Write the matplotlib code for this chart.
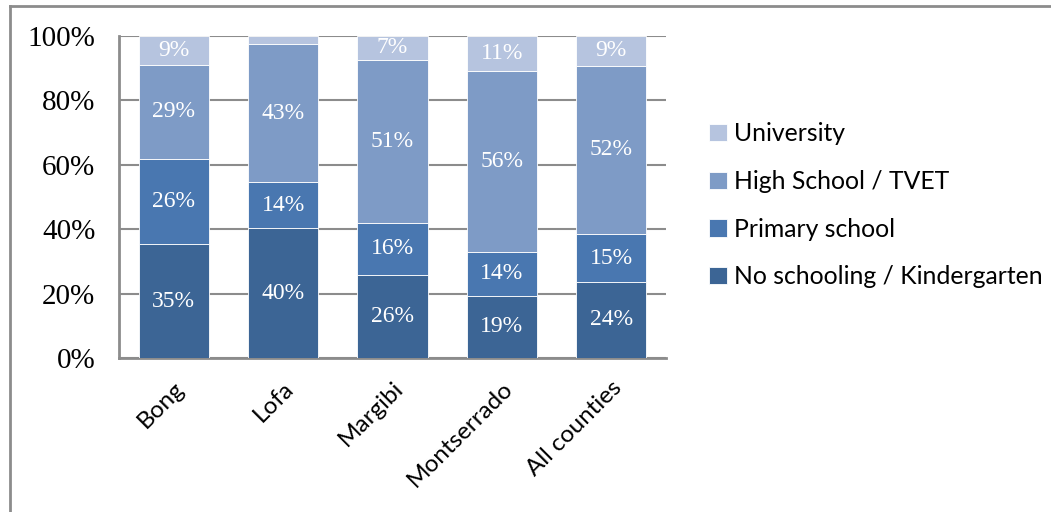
import matplotlib.pyplot as plt
from matplotlib.lines import Line2D

counties = ["Bong", "Lofa", "Margibi", "Montserrado", "All counties"]
levels = ["No schooling / Kindergarten", "Primary school", "High School / TVET", "University"]

# share of respondents (%) by highest level of education
no_school = [35.3, 40.3, 25.8, 19.3, 23.6]
primary = [26.4, 14.3, 16.1, 13.6, 14.9]
high_school = [29.4, 42.8, 50.7, 56.3, 52.3]
university = [8.9, 2.6, 7.4, 10.8, 9.2]

colors = ["#3C6595", "#4977B0", "#7E9BC6", "#B6C4DF"]
series = [no_school, primary, high_school, university]

fig = plt.figure(figsize=(10.51, 5.12), dpi=100)
ax = fig.add_axes([0.1132, 0.3008, 0.5205, 0.6289])

x = range(len(counties))
bottom = [0.0] * len(counties)
for vals, color, name in zip(series, colors, levels):
    bars = ax.bar(x, vals, width=0.64, bottom=bottom, color=color,
                  edgecolor="white", linewidth=0.6, label=name, zorder=3)
    labels = [f"{v:.0f}%" if v >= 5 else "" for v in vals]
    ax.bar_label(bars, labels=labels, label_type="center", color="white",
                 fontsize=17, family="Liberation Serif")
    bottom = [b + v for b, v in zip(bottom, vals)]

ax.set_xlim(-0.5, len(counties) - 0.5)
ax.set_ylim(0, 100)
ax.set_yticks(range(0, 101, 20))
ax.set_yticklabels([f"{t}%" for t in range(0, 101, 20)],
                   fontsize=21, family="Liberation Serif")
ax.set_xticks(list(x))
ax.set_xticklabels(counties, rotation=45, ha="right", va="top",
                   rotation_mode="anchor", fontsize=17.5, family="Lato")
ax.tick_params(axis="both", length=0)
ax.tick_params(axis="y", pad=17)
ax.tick_params(axis="x", pad=14)

ax.yaxis.grid(True, color="#8C8C8C", linewidth=1.5, zorder=0)
for side in ["top", "right"]:
    ax.spines[side].set_visible(False)
for side in ["left", "bottom"]:
    ax.spines[side].set_color("#8C8C8C")
    ax.spines[side].set_linewidth(2)

# legend lists the top segment first
h, l = ax.get_legend_handles_labels()
leg = fig.legend(h[::-1], l[::-1], loc="center left",
                 bbox_to_anchor=(0.675, 0.599), frameon=False,
                 prop={"family": "Lato", "size": 17.8},
                 handlelength=0.7, handleheight=0.7, handletextpad=0.3,
                 labelspacing=1.0, borderpad=0, borderaxespad=0)

# outer chart frame
fig.add_artist(Line2D([10 / 1051, 1], [1 - 6 / 512, 1 - 6 / 512],
                      transform=fig.transFigure, color="#8C8C8C", linewidth=2))
fig.add_artist(Line2D([10 / 1051, 10 / 1051], [0, 1 - 6 / 512],
                      transform=fig.transFigure, color="#8C8C8C", linewidth=2))

fig.savefig("out.png", dpi=100)
